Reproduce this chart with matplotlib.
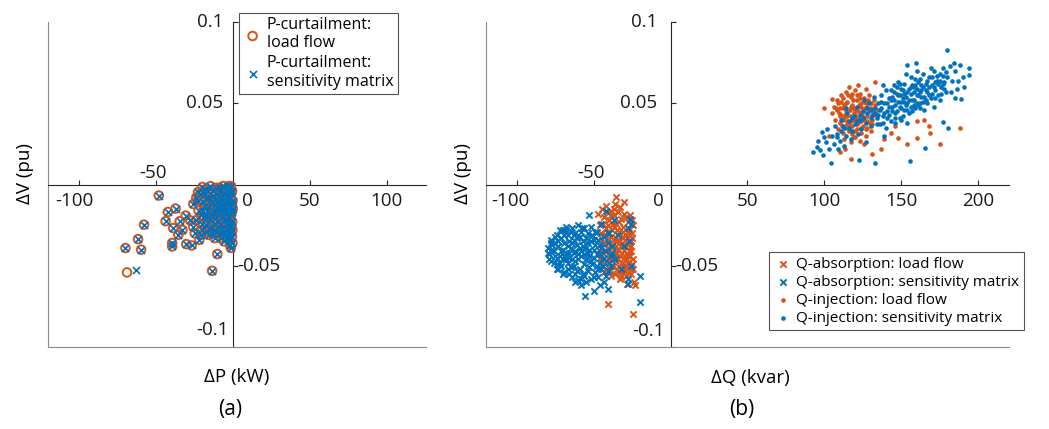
import matplotlib
matplotlib.use("Agg")
import matplotlib.pyplot as plt

plt.rcParams['font.family'] = ['Open Sans', 'DejaVu Sans']

ORANGE = '#D95319'
BLUE = '#0072BD'

# ---- (a) P-curtailment: dP (kW) vs dV (pu) ----
# points shared by load flow and sensitivity matrix
p_core_x = [-48.4, -42.5, -37.5, -58.0, -44.0, -61.9, -70.1, -59.9, -39.7, -39.7,
            -35.7, -30.5, -27.0, -10.3, -13.7, -22.8, -3.1, -34.8, -30.9, -39.0,
            -33.0, -26.0, -24.0, -19.0, -20.0, -28.0, -25.0, -22.0, -6.0, -3.0,
            -2.0, -21.5, -19.8, -18.2, -17.0, -16.1, -15.3, -14.6, -13.9, -13.2,
            -12.5, -11.8, -11.0, -10.4, -9.7, -9.1, -8.5, -7.9, -7.3, -6.8,
            -6.2, -5.6, -5.1, -4.6, -4.1, -3.6, -3.2, -2.8, -2.4, -2.0,
            -1.6, -1.2, -0.9, -0.6, -0.4, -17.5, -19.0, -22.5, -24.0, -20.5,
            -16.0, -12.0, -8.8, -14.8, -10.8, -6.5, -1.5, -0.8, -2.5, -9.5,
            -11.5, -5.0, -3.0, -7.0, -13.0, -18.5, -26.0, -4.0, -1.0,
            -23.0, -21.0, -20.0, -18.0, -17.2, -16.5, -15.6, -14.2, -13.5, -12.8,
            -12.2, -11.2, -10.6, -10.0, -9.3, -8.7, -8.2, -7.6, -7.1, -6.6,
            -6.0, -5.4, -4.9, -4.3, -3.8, -3.4, -2.9, -2.6, -2.2, -1.8,
            -1.4, -1.1, -0.7, -0.5, -0.3, -19.5, -15.0, -11.0, -8.0, -4.5,
            -21.0, -16.8, -0.5, -1.5]
p_core_y = [-0.0068, -0.0169, -0.0148, -0.0247, -0.0226, -0.0336, -0.0391, -0.0401, -0.0381, -0.0360,
            -0.0309, -0.0367, -0.0375, -0.0428, -0.0531, -0.0046, -0.0010, -0.0226, -0.0191, -0.0268,
            -0.0280, -0.0120, -0.0080, -0.0050, -0.0015, -0.0220, -0.0300, -0.0340, -0.0350, -0.0330,
            -0.0370, -0.006, -0.011, -0.003, -0.016, -0.008, -0.021, -0.012, -0.026, -0.004,
            -0.018, -0.009, -0.029, -0.014, -0.023, -0.002, -0.019, -0.010, -0.027, -0.015,
            -0.006, -0.021, -0.031, -0.012, -0.017, -0.003, -0.025, -0.008, -0.020, -0.014,
            -0.029, -0.005, -0.017, -0.023, -0.010, -0.025, -0.020, -0.016, -0.022, -0.028,
            -0.031, -0.033, -0.030, -0.001, -0.006, -0.001, -0.001, -0.032, -0.034, -0.017,
            -0.021, -0.008, -0.016, -0.013, -0.011, -0.013, -0.026, -0.028, -0.012,
            -0.010, -0.019, -0.024, -0.008, -0.029, -0.004, -0.014, -0.018, -0.030, -0.007,
            -0.024, -0.016, -0.011, -0.026, -0.007, -0.013, -0.024, -0.004, -0.020, -0.029,
            -0.017, -0.011, -0.024, -0.006, -0.021, -0.012, -0.030, -0.002, -0.026, -0.008,
            -0.019, -0.025, -0.004, -0.028, -0.015, -0.016, -0.027, -0.002, -0.033, -0.033,
            -0.031, -0.020, -0.036, -0.039]
p_lf_x = p_core_x + [-69.1]
p_lf_y = p_core_y + [-0.0541]
p_sm_x = p_core_x + [-63.0]
p_sm_y = p_core_y + [-0.0529]

# ---- (b) Q-absorption / Q-injection: dQ (kvar) vs dV (pu) ----
qa_lf_x = [-44.5, -41.8, -38.6, -36.2, -34.0, -43.0, -39.8, -37.1, -35.3, -32.4,
           -30.1, -28.0, -26.2, -46.0, -42.2, -40.5, -37.8, -33.6, -31.0, -29.2,
           -26.8, -24.6, -45.2, -43.6, -41.0, -38.2, -36.4, -34.8, -32.0, -29.8,
           -27.5, -25.3, -46.5, -44.0, -41.5, -39.2, -36.9, -33.2, -30.6, -28.4,
           -25.8, -24.2, -45.0, -42.8, -40.0, -37.5, -35.5, -33.8, -31.4, -29.0,
           -26.5, -24.8, -43.4, -39.5, -36.0, -32.6, -28.8, -26.0, -35.0, -31.8,
           -37.0, -28.6, -40.8, -34.4, -30.3, -27.0, -35.7, -30.3, -40.5, -24.3,
           -25.3, -23.5, -23.0, -33.0, -47.5, -38.0, -29.5, -42.0, -27.5, -31.5,
           -45.5, -43.8, -42.5, -41.0, -39.0, -38.5, -37.6, -36.5, -35.8, -34.2,
           -33.5, -32.8, -31.6, -30.8, -29.6, -28.2, -27.8, -26.6, -25.6, -24.5,
           -44.8, -42.0, -38.8, -34.6, -30.8, -27.2, -41.2, -36.8, -33.0, -29.0,
           -25.0, -46.2, -40.0, -35.2, -31.0, -37.2, -43.5, -26.0, -32.0, -28.4]
qa_lf_y = [-0.015, -0.013, -0.016, -0.012, -0.017, -0.020, -0.022, -0.019, -0.024, -0.021,
           -0.018, -0.023, -0.019, -0.025, -0.027, -0.030, -0.028, -0.029, -0.026, -0.031,
           -0.028, -0.025, -0.033, -0.036, -0.034, -0.037, -0.032, -0.035, -0.038, -0.034,
           -0.037, -0.033, -0.040, -0.042, -0.039, -0.043, -0.041, -0.044, -0.040, -0.043,
           -0.041, -0.046, -0.047, -0.049, -0.046, -0.050, -0.047, -0.051, -0.048, -0.050,
           -0.052, -0.049, -0.054, -0.053, -0.055, -0.054, -0.056, -0.055, -0.028, -0.032,
           -0.034, -0.046, -0.025, -0.040, -0.045, -0.030, -0.0078, -0.0109, -0.0734, -0.0798,
           -0.0216, -0.060, -0.062, -0.058, -0.018, -0.045, -0.053, -0.031, -0.044, -0.036,
           -0.030, -0.024, -0.041, -0.045, -0.019, -0.032, -0.045, -0.026, -0.038, -0.046,
           -0.023, -0.035, -0.042, -0.029, -0.038, -0.033, -0.048, -0.044, -0.038, -0.052,
           -0.050, -0.052, -0.056, -0.052, -0.054, -0.041, -0.017, -0.015, -0.014, -0.020,
           -0.030, -0.045, -0.040, -0.043, -0.050, -0.024, -0.031, -0.035, -0.057, -0.061]

qa_sm_x = [-72, -68, -64, -60, -56, -52, -48, -45, -67.7,
           -78, -75, -71, -67, -63, -59, -55, -51, -47, -43, -40,
           -80, -77, -73, -69, -65, -61, -57, -53, -49, -45, -41, -38,
           -79, -76, -72, -68, -66, -62, -58, -54, -50, -46, -42, -39,
           -78, -74, -70, -67, -63, -60, -56, -52, -48, -44, -40,
           -73, -69, -65, -61, -57, -53, -49, -45, -41,
           -64, -60, -56, -52, -47, -43,
           -70, -66, -62, -58, -54, -50, -46, -74, -76, -71, -64, -55, -59, -63, -67,
           -37, -34, -36, -32, -30, -28, -27,
           -55.6, -49.8, -20.1, -19.9, -27.5, -53.0, -42.2, -26.5, -25.5, -46, -41, -58, -62, -26, -28, -57.5,
           -77, -75, -73, -71, -69, -69, -68, -66, -65, -64, -62, -61, -60, -59, -57, -56, -55,
           -54, -53, -52, -51, -50, -49, -48, -47, -46, -44, -43, -42, -41, -39, -38,
           -74, -72, -70, -67, -66, -62, -58, -55, -50, -76, -79, -80, -78, -74, -70, -63, -58, -54]
qa_sm_y = [-0.028, -0.026, -0.027, -0.025, -0.027, -0.026, -0.029, -0.024, -0.0278,
           -0.034, -0.032, -0.033, -0.031, -0.034, -0.032, -0.033, -0.031, -0.034, -0.032, -0.030,
           -0.039, -0.037, -0.038, -0.036, -0.039, -0.037, -0.038, -0.040, -0.037, -0.039, -0.036, -0.038,
           -0.043, -0.041, -0.044, -0.042, -0.045, -0.041, -0.044, -0.042, -0.045, -0.043, -0.041, -0.044,
           -0.047, -0.049, -0.046, -0.048, -0.050, -0.046, -0.049, -0.047, -0.050, -0.046, -0.048,
           -0.052, -0.054, -0.051, -0.053, -0.055, -0.051, -0.054, -0.052, -0.053,
           -0.057, -0.059, -0.056, -0.058, -0.057, -0.060,
           -0.040, -0.035, -0.030, -0.041, -0.036, -0.034, -0.048, -0.045, -0.036, -0.050, -0.046, -0.046, -0.052, -0.042, -0.038,
           -0.022, -0.031, -0.046, -0.052, -0.038, -0.027, -0.035,
           -0.0685, -0.0654, -0.0562, -0.0724, -0.0613, -0.0185, -0.0165, -0.021, -0.024, -0.062, -0.064, -0.062, -0.060, -0.050, -0.058, -0.027,
           -0.040, -0.044, -0.035, -0.041, -0.044, -0.031, -0.046, -0.042, -0.029, -0.036, -0.047, -0.033, -0.043, -0.039, -0.035, -0.043, -0.039,
           -0.053, -0.044, -0.035, -0.049, -0.040, -0.029, -0.043, -0.052, -0.037, -0.050, -0.045, -0.056, -0.030, -0.050, -0.042,
           -0.052, -0.048, -0.055, -0.052, -0.055, -0.055, -0.058, -0.060, -0.057, -0.048, -0.046, -0.042, -0.036, -0.031, -0.028, -0.031, -0.029, -0.030]

qi_lf_x = [108, 111, 114, 117, 120, 123, 126, 129, 132,
           106, 109, 112, 115, 118, 121, 124, 127, 130, 133,
           105, 108, 111, 114, 117, 120, 123, 126, 129, 132, 135,
           107, 110, 113, 116, 119, 122, 125, 128, 131,
           109, 112, 115, 118, 121, 124, 127, 130,
           113, 117, 120, 123, 126,
           116, 122, 127, 119, 122, 118, 124, 115, 120, 125, 110, 128, 112, 131,
           188, 175, 164.5, 167.8, 168.8, 160, 153.7, 148, 138.5, 131,
           113.6, 105, 160, 143, 137, 110, 100, 117, 133, 103, 146,
           107.5, 109.5, 110.5, 111.5, 112.5, 113.5, 114.5, 115.5, 116.5, 117.5,
           118.5, 119.5, 120.5, 121.5, 122.5, 123.5, 124.5, 125.5, 126.5, 127.5,
           128.5, 129.5, 130.5, 131.5, 119, 121, 116, 112, 124, 127,
           118, 114, 123, 120, 117, 122, 125, 115, 110, 128]
qi_lf_y = [0.052, 0.055, 0.057, 0.054, 0.058, 0.056, 0.053, 0.055, 0.052,
           0.048, 0.050, 0.047, 0.051, 0.049, 0.052, 0.048, 0.050, 0.047, 0.049,
           0.044, 0.046, 0.043, 0.045, 0.042, 0.046, 0.044, 0.041, 0.045, 0.043, 0.046,
           0.040, 0.038, 0.041, 0.037, 0.040, 0.038, 0.036, 0.039, 0.037,
           0.034, 0.032, 0.035, 0.031, 0.034, 0.032, 0.030, 0.033,
           0.028, 0.026, 0.029, 0.027, 0.025,
           0.060, 0.061, 0.059, 0.044, 0.041, 0.036, 0.050, 0.039, 0.033, 0.045, 0.042, 0.035, 0.053, 0.040,
           0.035, 0.0247, 0.040, 0.036, 0.0318, 0.0288, 0.0247, 0.0288, 0.0278, 0.0185,
           0.0216, 0.0524, 0.039, 0.032, 0.022, 0.020, 0.047, 0.016, 0.063, 0.030, 0.036,
           0.047, 0.044, 0.051, 0.036, 0.049, 0.043, 0.037, 0.055, 0.046, 0.039,
           0.052, 0.047, 0.041, 0.055, 0.049, 0.035, 0.043, 0.051, 0.047, 0.042,
           0.052, 0.038, 0.050, 0.045, 0.029, 0.037, 0.033, 0.040, 0.039, 0.034,
           0.056, 0.050, 0.053, 0.043, 0.048, 0.045, 0.040, 0.042, 0.047, 0.048]

qi_sm_x = [92.6, 95.2, 98.9, 98.5, 101, 103, 104.3, 100, 96, 105, 102, 97,
           106, 108, 110, 112, 114, 116, 118, 107, 111, 113, 115, 117, 119, 120, 109, 122.3, 114,
           121, 123, 125, 127, 129, 131, 133, 124, 126, 128, 130, 132, 134, 122, 132.7, 127, 135,
           136, 137, 138, 139, 140, 141, 142, 143, 144, 145, 146, 147, 148, 149, 150,
           136, 138, 140, 142, 144, 146, 148, 150, 137, 141, 143, 145, 147, 149, 139,
           151, 152, 153, 154, 155, 156, 157, 158, 159, 160, 161, 162, 163, 164, 165,
           151, 153, 155, 157, 159, 161, 163, 165, 152, 154, 156, 158, 160, 162, 164,
           155.8, 153.7, 159.7, 150, 154, 165.6,
           166, 167, 168, 169, 170, 171, 172, 173, 174, 175, 176, 177, 178, 179, 180,
           167, 169, 171, 173, 175, 177, 179, 168, 172, 176, 180.5, 176.9, 179.7,
           181.8, 183, 185, 186, 188, 189, 190, 193.7, 193.7, 182, 184, 187, 191, 185,
           108, 111, 113, 116, 118, 121, 123, 125, 128, 130, 133, 135, 137, 139, 141,
           143, 144, 146, 148, 149, 151, 152, 153, 155, 156, 157, 158, 159, 160, 161,
           162, 163, 164, 166, 167, 168, 170, 171, 172, 174, 175, 177, 178, 170, 166,
           162, 158, 154, 150, 146, 142, 138, 134, 130, 147, 152, 156, 160, 145, 149]
qi_sm_y = [0.020, 0.023, 0.018, 0.0325, 0.026, 0.022, 0.0133, 0.029, 0.027, 0.030, 0.034, 0.021,
           0.025, 0.031, 0.027, 0.036, 0.030, 0.039, 0.033, 0.036, 0.040, 0.024, 0.044, 0.028, 0.042, 0.037, 0.022, 0.015, 0.047,
           0.048, 0.040, 0.045, 0.038, 0.050, 0.043, 0.047, 0.034, 0.052, 0.044, 0.036, 0.054, 0.041, 0.031, 0.013, 0.026, 0.050,
           0.046, 0.055, 0.042, 0.050, 0.058, 0.045, 0.053, 0.039, 0.048, 0.061, 0.044, 0.056, 0.051, 0.041, 0.059,
           0.037, 0.061, 0.035, 0.048, 0.054, 0.038, 0.063, 0.047, 0.051, 0.041, 0.058, 0.052, 0.045, 0.055, 0.030,
           0.053, 0.062, 0.049, 0.057, 0.044, 0.066, 0.052, 0.060, 0.047, 0.055, 0.063, 0.050, 0.058, 0.068, 0.054,
           0.042, 0.068, 0.059, 0.045, 0.065, 0.049, 0.061, 0.046, 0.056, 0.050, 0.060, 0.052, 0.070, 0.057, 0.051,
           0.0144, 0.0734, 0.075, 0.040, 0.038, 0.0226,
           0.062, 0.057, 0.066, 0.053, 0.061, 0.070, 0.058, 0.064, 0.055, 0.068, 0.060, 0.072, 0.063, 0.057, 0.066,
           0.050, 0.072, 0.048, 0.067, 0.052, 0.062, 0.069, 0.060, 0.053, 0.056, 0.035, 0.0384, 0.0827,
           0.073, 0.064, 0.070, 0.059, 0.0734, 0.0524, 0.066, 0.0716, 0.0674, 0.057, 0.075, 0.064, 0.060, 0.053,
           0.029, 0.033, 0.035, 0.035, 0.041, 0.039, 0.043, 0.041, 0.047, 0.046, 0.044, 0.043, 0.047, 0.044, 0.050,
           0.052, 0.045, 0.049, 0.055, 0.048, 0.058, 0.051, 0.054, 0.052, 0.056, 0.061, 0.057, 0.061, 0.059, 0.055,
           0.065, 0.054, 0.060, 0.058, 0.064, 0.055, 0.066, 0.060, 0.063, 0.062, 0.064, 0.067, 0.059, 0.056, 0.052,
           0.047, 0.049, 0.046, 0.051, 0.041, 0.043, 0.038, 0.037, 0.041, 0.060, 0.046, 0.048, 0.050, 0.057, 0.062]

ax_a_xticks = [-100, -50, 0, 50, 100]
ax_b_xticks = [-100, -50, 0, 50, 100, 150, 200]
yticks = [-0.1, -0.05, 0.05, 0.1]

fig = plt.figure(figsize=(10.49, 4.29), dpi=100)
ax_a = fig.add_axes([48 / 1049, 1 - 347 / 429, 378 / 1049, 325 / 429])
ax_b = fig.add_axes([486 / 1049, 1 - 347 / 429, 523 / 1049, 325 / 429])

PX = 0.72  # points per pixel at dpi 100


def style_axes(ax, xlim):
    ax.set_xlim(*xlim)
    ax.set_ylim(-0.1, 0.1)
    # origin axes carry the ticks
    for s in ('left', 'bottom'):
        ax.spines[s].set_position('zero')
        ax.spines[s].set_color('#262626')
        ax.spines[s].set_linewidth(0.8)
    # the grey frame on left and bottom edges
    ax.spines['right'].set_position(('axes', 0))
    ax.spines['top'].set_position(('axes', 0))
    for s in ('right', 'top'):
        ax.spines[s].set_color('#8c8c8c')
        ax.spines[s].set_linewidth(0.8)
    ax.tick_params(which='both', direction='in', length=3.5, width=0.8,
                   color='#262626', labelbottom=False, labelleft=False,
                   top=False, right=False)
    ax.set_yticks(yticks)
    ax.patch.set_visible(False)


def tick_text(ax, x, y, s, dx, dy, ha='center', va='center'):
    ax.annotate(s, xy=(x, y), xycoords='data', xytext=(dx * PX, dy * PX),
                textcoords='offset points', ha=ha, va=va, fontsize=13.5,
                color='#1a1a1a', annotation_clip=False)


# ---- panel (a)
style_axes(ax_a, (-120.5, 125.5))
ax_a.set_xticks(ax_a_xticks)
ax_a.scatter(p_lf_x, p_lf_y, s=38, facecolors='none', edgecolors=ORANGE,
             linewidths=1.4, label='P-curtailment:\nload flow', zorder=3)
ax_a.scatter(p_sm_x, p_sm_y, s=26, marker='x', color=BLUE, linewidths=1.2,
             label='P-curtailment:\nsensitivity matrix', zorder=4)

for v, lab, dx, dy in zip(ax_a_xticks, ['-100', '-50', '0', '50', '100'],
                          [-5, -3.5, 14, 0, 0], [-17, 11, -17, -17, -17]):
    tick_text(ax_a, v, 0, lab, dx, dy)
tick_text(ax_a, 0, 0.1, '0.1', -10, 0, ha='right')
tick_text(ax_a, 0, 0.05, '0.05', -10, 0, ha='right')
tick_text(ax_a, 0, -0.05, '-0.05', 4, 0, ha='left')
tick_text(ax_a, 0, -0.1, '-0.1', -5, 17, ha='right')

leg_a = ax_a.legend(loc='upper left', bbox_to_anchor=(239 / 1049, 1 - 13 / 429),
                    bbox_transform=fig.transFigure, borderaxespad=0, fontsize=11.5,
                    frameon=True, fancybox=False, edgecolor='#262626',
                    handletextpad=0.3, handlelength=1.2, labelspacing=0.25,
                    borderpad=0.25, scatterpoints=1)
leg_a.get_frame().set_linewidth(0.8)

# ---- panel (b)
style_axes(ax_b, (-120, 220))
ax_b.set_xticks(ax_b_xticks)
ax_b.scatter(qa_lf_x, qa_lf_y, s=20, marker='x', color=ORANGE, linewidths=1.4,
             label='Q-absorption: load flow', zorder=3)
ax_b.scatter(qa_sm_x, qa_sm_y, s=20, marker='x', color=BLUE, linewidths=1.4,
             label='Q-absorption: sensitivity matrix', zorder=4)
ax_b.scatter(qi_lf_x, qi_lf_y, s=11, marker='o', color=ORANGE, linewidths=0,
             label='Q-injection: load flow', zorder=3)
ax_b.scatter(qi_sm_x, qi_sm_y, s=11, marker='o', color=BLUE, linewidths=0,
             label='Q-injection: sensitivity matrix', zorder=4)

for v, lab, dx, dy in zip(ax_b_xticks, ['-100', '-50', '0', '50', '100', '150', '200'],
                          [-6, -3, -12.5, 0, 0, 0, 0], [-17, 11, -17, -17, -17, -17, -17]):
    tick_text(ax_b, v, 0, lab, dx, dy)
tick_text(ax_b, 0, 0.1, '0.1', -13, 0, ha='right')
tick_text(ax_b, 0, 0.05, '0.05', -13, 0, ha='right')
tick_text(ax_b, 0, -0.05, '-0.05', 5, 0, ha='left')
tick_text(ax_b, 0, -0.1, '-0.1', -5.5, 16, ha='right')

leg_b = ax_b.legend(loc='upper left', bbox_to_anchor=(769 / 1049, 1 - 252 / 429),
                    bbox_transform=fig.transFigure, borderaxespad=0, fontsize=11,
                    frameon=True, fancybox=False, edgecolor='#262626',
                    handletextpad=0.3, handlelength=1.2, labelspacing=0.2,
                    borderpad=0.3, scatterpoints=1)
leg_b.get_frame().set_linewidth(0.8)

# axis labels and panel captions
fig.text(25 / 1049, 1 - 173 / 429, 'ΔV (pu)', rotation=90, ha='center', va='center', fontsize=13.5)
fig.text(463 / 1049, 1 - 173 / 429, 'ΔV (pu)', rotation=90, ha='center', va='center', fontsize=13.5)
fig.text(237 / 1049, 1 - 377 / 429, 'ΔP (kW)', ha='center', va='center', fontsize=13.5)
fig.text(750 / 1049, 1 - 378 / 429, 'ΔQ (kvar)', ha='center', va='center', fontsize=13.5)
fig.text(230 / 1049, 1 - 410 / 429, '(a)', ha='center', va='center', fontsize=15)
fig.text(742 / 1049, 1 - 410 / 429, '(b)', ha='center', va='center', fontsize=15)

fig.savefig('out.png', dpi=100)
